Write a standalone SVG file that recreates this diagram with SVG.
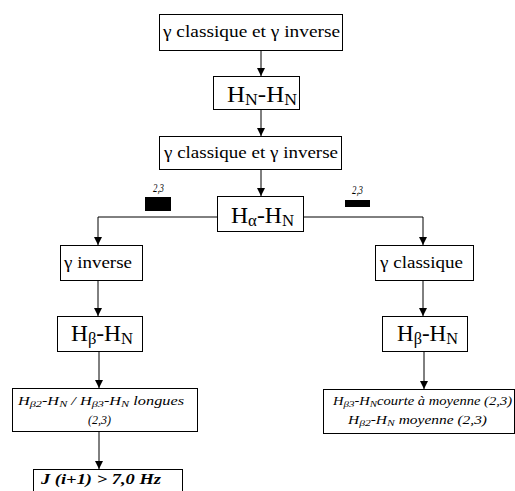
<svg xmlns="http://www.w3.org/2000/svg" width="515" height="491" viewBox="0 0 515 491">
<defs>
<style>
.box{fill:#fff;stroke:#000;stroke-width:1}
.g{font-size:17px}
.h{font-size:24px}
.i{font-size:12px;font-style:italic}
.ln{fill:none;stroke:#000;stroke-width:1}
</style>
<marker id="ah" viewBox="0 0 8 8" refX="8" refY="4" markerWidth="8" markerHeight="8" markerUnits="userSpaceOnUse" orient="auto">
<path d="M0,0 L8,4 L0,8 z" fill="#000"/>
</marker>
</defs>
<rect width="515" height="491" fill="#fff"/>
<g id="connectors">
<line class="ln" x1="261" y1="50" x2="261" y2="76" marker-end="url(#ah)"/>
<line class="ln" x1="261" y1="110" x2="261" y2="136" marker-end="url(#ah)"/>
<line class="ln" x1="261" y1="169" x2="261" y2="196" marker-end="url(#ah)"/>
<polyline class="ln" points="217,217 98,217 98,245" marker-end="url(#ah)"/>
<polyline class="ln" points="303,217 423,217 423,245" marker-end="url(#ah)"/>
<line class="ln" x1="98" y1="281" x2="98" y2="316" marker-end="url(#ah)"/>
<line class="ln" x1="423" y1="281" x2="423" y2="316" marker-end="url(#ah)"/>
<line class="ln" x1="99" y1="352" x2="99" y2="388" marker-end="url(#ah)"/>
<line class="ln" x1="424" y1="352" x2="424" y2="389" marker-end="url(#ah)"/>
<line class="ln" x1="99" y1="431" x2="99" y2="469" marker-end="url(#ah)"/>
</g>
<g font-family="Liberation Serif, Times New Roman, DejaVu Serif, serif" fill="#000">
<g id="bar-left">
<rect x="145" y="197" width="26" height="14" fill="#000"/>
<text class="i" x="153" y="192" font-size="10" textLength="11" lengthAdjust="spacingAndGlyphs">2,3</text>
</g>
<g id="bar-right">
<rect x="345" y="200" width="25" height="7" fill="#000"/>
<text class="i" x="352" y="194" font-size="10" textLength="11" lengthAdjust="spacingAndGlyphs">2,3</text>
</g>
<g id="n1">
<rect class="box" x="159.500" y="14.500" width="183" height="36"/>
<text class="g" x="163" y="37" textLength="177" lengthAdjust="spacingAndGlyphs">γ classique et γ inverse</text>
</g>
<g id="n2">
<rect class="box" x="213.500" y="76.500" width="86" height="33"/>
<text class="h" x="227" y="102" textLength="70" lengthAdjust="spacingAndGlyphs">H<tspan font-size="17" dy="3">N</tspan><tspan dy="-3">-H</tspan><tspan font-size="17" dy="3">N</tspan></text>
</g>
<g id="n3">
<rect class="box" x="159.500" y="136.500" width="182" height="33"/>
<text class="g" x="164" y="158" textLength="174" lengthAdjust="spacingAndGlyphs">γ classique et γ inverse</text>
</g>
<g id="n4">
<rect class="box" x="217.500" y="196.500" width="86" height="35"/>
<text class="h" x="231" y="223" textLength="63" lengthAdjust="spacingAndGlyphs">H<tspan font-size="17" dy="3">α</tspan><tspan dy="-3">-H</tspan><tspan font-size="17" dy="3">N</tspan></text>
</g>
<g id="n5">
<rect class="box" x="60.500" y="245.500" width="82" height="35"/>
<text class="g" x="64" y="268" textLength="68" lengthAdjust="spacingAndGlyphs">γ inverse</text>
</g>
<g id="n6">
<rect class="box" x="375.500" y="245.500" width="98" height="35"/>
<text class="g" x="380" y="268" textLength="83" lengthAdjust="spacingAndGlyphs">γ classique</text>
</g>
<g id="n7">
<rect class="box" x="57.500" y="316.500" width="85" height="35"/>
<text class="h" x="71" y="341" textLength="62" lengthAdjust="spacingAndGlyphs">H<tspan font-size="17" dy="3">β</tspan><tspan dy="-3">-H</tspan><tspan font-size="17" dy="3">N</tspan></text>
</g>
<g id="n8">
<rect class="box" x="382.500" y="316.500" width="85" height="35"/>
<text class="h" x="397" y="341" textLength="61" lengthAdjust="spacingAndGlyphs">H<tspan font-size="17" dy="3">β</tspan><tspan dy="-3">-H</tspan><tspan font-size="17" dy="3">N</tspan></text>
</g>
<g id="n9">
<rect class="box" x="12.500" y="388.500" width="185" height="43"/>
<text class="i" x="18" y="405" textLength="166" lengthAdjust="spacingAndGlyphs">H<tspan font-size="9" dy="2">β2</tspan><tspan dy="-2">-H</tspan><tspan font-size="9" dy="2">N</tspan><tspan dy="-2"> / H</tspan><tspan font-size="9" dy="2">β3</tspan><tspan dy="-2">-H</tspan><tspan font-size="9" dy="2">N</tspan><tspan dy="-2"> longues</tspan></text>
<text class="i" x="88" y="424" textLength="23" lengthAdjust="spacingAndGlyphs">(2,3)</text>
</g>
<g id="n10">
<rect class="box" x="323.500" y="389.500" width="191" height="44"/>
<text class="i" x="333" y="405" textLength="179" lengthAdjust="spacingAndGlyphs">H<tspan font-size="9" dy="2">β3</tspan><tspan dy="-2">-H</tspan><tspan font-size="9" dy="2">N</tspan><tspan dy="-2">courte à moyenne (2,3)</tspan></text>
<text class="i" x="348" y="424" textLength="139" lengthAdjust="spacingAndGlyphs">H<tspan font-size="9" dy="2">β2</tspan><tspan dy="-2">-H</tspan><tspan font-size="9" dy="2">N</tspan><tspan dy="-2"> moyenne (2,3)</tspan></text>
</g>
<g id="n11">
<rect class="box" x="33.500" y="469.500" width="149" height="30"/>
<text x="41" y="484" font-size="14" font-weight="bold" font-style="italic" textLength="120" lengthAdjust="spacingAndGlyphs">J (i+1) &gt; 7,0 Hz</text>
</g>
</g>
</svg>
